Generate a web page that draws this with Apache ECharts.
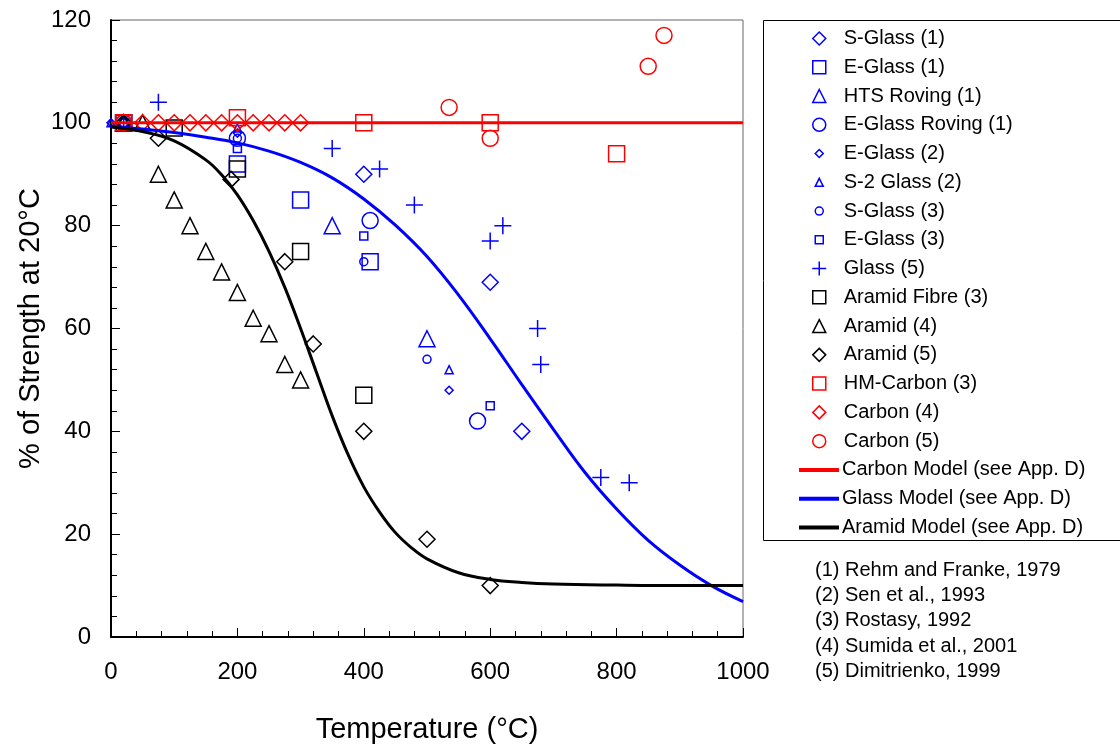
<!DOCTYPE html>
<html>
<head>
<meta charset="utf-8">
<script src="https://cdn.jsdelivr.net/npm/echarts@6/dist/echarts.min.js"></script>
<style>
html,body{margin:0;padding:0;background:#fff}
#main{width:1120px;height:744px}
</style>
</head>
<body>
<div id="main"></div>
<script>
// measured points, [temperature, % of strength]
var sGlass1 = [[20,100],[400,90],[600,69],[650,40]];
var eGlass1 = [[20,100],[200,92],[300,85],[410,73]];
var htsRoving1 = [[20,100],[350,80],[500,58]];
var eGlassRoving1 = [[20,100],[200,97],[410,81],[580,42]];
var eGlass2 = [[0,100],[200,98],[535,48]];
var s2Glass2 = [[0,100],[200,99],[535,52]];
var sGlass3 = [[20,100],[200,97],[400,73],[500,54]];
var eGlass3 = [[20,100],[200,95],[400,78],[600,45]];
var glass5 = [[20,100],[75,104],[350,95],[425,91],[480,84],[600,77],[620,80],[675,60],[680,53],[775,31],[820,30]];
var aramidFibre3 = [[20,100],[100,99],[200,91],[300,75],[400,47]];
var aramid4 = [[20,100],[50,100],[75,90],[100,85],[125,80],[150,75],[175,71],[200,67],[225,62],[250,59],[275,53],[300,50]];
var aramid5 = [[20,100],[75,97],[190,89],[275,73],[320,57],[400,40],[500,19],[600,10]];
var hmCarbon3 = [[20,100],[200,101],[400,100],[600,100],[800,94]];
var carbon4 = [[50,100],[75,100],[100,100],[125,100],[150,100],[175,100],[200,100],[225,100],[250,100],[275,100],[300,100]];
var carbon5 = [[20,100],[535,103],[600,97],[850,111],[875,117]];

// model curves
var carbonModel = [[0,100],[1000,100]];
var glassModel = [[0,99.3],[50,98.8],[100,98.1],[150,97.2],[200,96.1],[250,94.5],[300,92.3],[350,89.3],[400,85.2],[450,80.1],[500,74],[550,66.5],[600,58],[650,49.1],[700,40.4],[750,32],[800,24.9],[850,18.8],[900,14],[950,10],[1000,6.9]];
var aramidModel = [[0,99.2],[50,98.3],[100,96.5],[150,92.8],[175,89.9],[200,86],[225,81],[250,75],[275,68],[300,60],[325,51.5],[350,43],[375,35.5],[400,29.2],[425,24.3],[450,20.3],[475,17.4],[500,15.2],[550,12.5],[600,11.2],[650,10.6],[700,10.3],[800,10.1],[900,10],[1000,10]];

var refNotes = ['(1) Rehm and Franke, 1979','(2) Sen et al., 1993','(3) Rostasy, 1992','(4) Sumida et al., 2001','(5) Dimitrienko, 1999'];

var FONT = '"Liberation Sans", Arial, sans-serif';
var BLUE = '#0000ff', RED = '#ff0000', BLACK = '#000000';
var DIAMOND = 'path://M5,0 L10,5 L5,10 L0,5 Z';
var SQUARE = 'path://M0,0 L10,0 L10,10 L0,10 Z';
var TRIANGLE = 'path://M5,0 L10,10 L0,10 Z';
var PLUS = 'path://M5,0 L5,10 M0,5 L10,5';

var marks = [
	['S-Glass (1)', sGlass1, DIAMOND, 16, BLUE, 13],
	['E-Glass (1)', eGlass1, SQUARE, 16, BLUE, 13],
	['HTS Roving (1)', htsRoving1, TRIANGLE, 16, BLUE, 13],
	['E-Glass Roving (1)', eGlassRoving1, 'circle', 16, BLUE, 13],
	['E-Glass (2)', eGlass2, DIAMOND, 8, BLUE, 8],
	['S-2 Glass (2)', s2Glass2, TRIANGLE, 8, BLUE, 8],
	['S-Glass (3)', sGlass3, 'circle', 8, BLUE, 8],
	['E-Glass (3)', eGlass3, SQUARE, 8, BLUE, 8],
	['Glass (5)', glass5, PLUS, 17, BLUE, 14],
	['Aramid Fibre (3)', aramidFibre3, SQUARE, 16, BLACK, 13],
	['Aramid (4)', aramid4, TRIANGLE, 16, BLACK, 13],
	['Aramid (5)', aramid5, DIAMOND, 16, BLACK, 13],
	['HM-Carbon (3)', hmCarbon3, SQUARE, 16, RED, 13],
	['Carbon (4)', carbon4, DIAMOND, 16, RED, 13],
	['Carbon (5)', carbon5, 'circle', 16, RED, 13]
];
var models = [
	['Carbon Model (see App. D)', carbonModel, RED],
	['Glass Model (see App. D)', glassModel, BLUE],
	['Aramid Model (see App. D)', aramidModel, BLACK]
];

var series = [];
var legends = [];
var graphics = [{
	type: 'rect',
	shape: {x:763.5, y:20.5, width:360, height:520},
	style: {fill:'none', stroke:'#000', lineWidth:1},
	silent: true
}];
var rowY = function(i){ return 38.5 + i*28.76; };
var legendText = {fontSize:20, fontFamily:FONT, color:'#000', lineHeight:22};

for(var i=0;i<marks.length;i++){
	var m = marks[i];
	series.push({
		name: m[0],
		type: 'scatter',
		data: m[1],
		symbol: m[2],
		symbolSize: m[3],
		symbolKeepAspect: true,
		itemStyle: {color:'rgba(0,0,0,0)', borderColor:m[4], borderWidth:1.5, opacity:1},
		z: 3
	});
	// legend box is placed by its drawn bounds, so start it at the symbol's left edge
	legends.push({
		left: 818.5 - m[5]/2, top: rowY(i) - 11, padding: 0,
		itemWidth: 39, itemHeight: m[5], itemGap: 0,
		selectedMode: false,
		data: [m[0]],
		itemStyle: {color:'rgba(0,0,0,0)', borderColor:m[4], borderWidth:1.5},
		textStyle: legendText
	});
}
for(var j=0;j<models.length;j++){
	var md = models[j];
	var ry = rowY(marks.length + j);
	series.push({
		name: md[0],
		type: 'line',
		data: md[1],
		symbol: 'none',
		smooth: 0.4,
		lineStyle: {color:md[2], width:3},
		itemStyle: {color:md[2]},
		z: 4
	});
	legends.push({
		left: 798, top: ry - 11, padding: 0,
		itemWidth: 39, itemHeight: 14, itemGap: 0,
		selectedMode: false,
		data: [{name: md[0], icon: 'none'}],
		textStyle: legendText
	});
	// legend key line
	graphics.push({
		type: 'line',
		shape: {x1:799, y1:ry, x2:839, y2:ry},
		style: {stroke:md[2], lineWidth:4},
		silent: true
	});
}

for(var k=0;k<refNotes.length;k++){
	graphics.push({
		type: 'text',
		x: 815, y: 570 + k*25.4,
		style: {text:refNotes[k], fontSize:20, fontFamily:FONT, fill:'#000', verticalAlign:'middle'},
		silent: true
	});
}

var axisCommon = {
	type: 'value',
	axisLine: {show:true, onZero:false, lineStyle:{color:'#000', width:2}},
	axisTick: {show:true, inside:true, length:9, lineStyle:{color:'#000', width:1}},
	minorTick: {show:true, splitNumber:5, length:6, lineStyle:{color:'#000', width:1}},
	splitLine: {show:false},
	nameLocation: 'middle',
	nameMoveOverlap: false,
	nameTextStyle: {fontSize:29, fontFamily:FONT, color:'#000'}
};

var myChart = echarts.init(document.getElementById('main'));
var option = {
	animation: false,
	backgroundColor: '#fff',
	grid: {left:111, right:377, top:20, bottom:107, show:true, borderColor:'#666', borderWidth:1, outerBoundsMode:'none', containLabel:false},
	xAxis: echarts.util.merge({
		min: 0, max: 1000, interval: 200,
		name: 'Temperature (°C)', nameGap: 78,
		axisLabel: {fontSize:24, fontFamily:FONT, color:'#000', margin:23, formatter: function(v){ return String(v); }}
	}, axisCommon),
	yAxis: echarts.util.merge({
		min: 0, max: 120, interval: 20,
		name: '% of Strength at 20°C', nameGap: 66,
		axisLabel: {fontSize:24, fontFamily:FONT, color:'#000', margin:20}
	}, axisCommon),
	legend: legends,
	graphic: graphics,
	series: series
};
myChart.setOption(option);
</script>
</body>
</html>
